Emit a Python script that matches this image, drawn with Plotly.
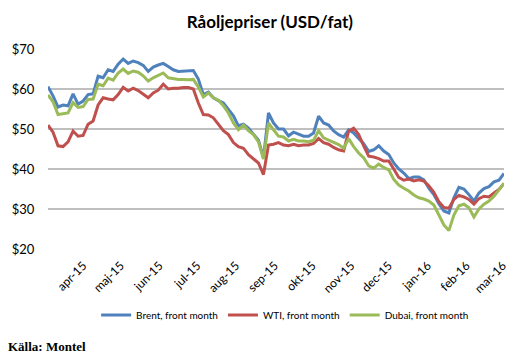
import plotly.graph_objects as go
import pandas as pd

# x categories: observation dates (every 4 days from 2015-03-04)
dates = pd.date_range("2015-03-04", periods=92, freq="4D")

brent = [60.6, 58.3, 55.5, 56.0, 55.8, 58.8, 56.2, 57.0, 58.6, 58.8,
         63.2, 62.8, 64.8, 64.4, 66.2, 67.5, 66.4, 67.0, 66.6, 65.9,
         64.4, 65.5, 66.0, 66.4, 65.6, 64.8, 64.4, 64.5, 64.6, 64.6,
         62.5, 58.6, 59.2, 57.8, 57.1, 56.5, 54.9, 53.3, 50.8, 51.2,
         50.2, 48.6, 47.2, 42.8, 54.0, 51.5, 50.0, 50.0, 48.3, 49.2,
         48.7, 48.2, 48.2, 49.0, 53.2, 51.5, 51.0, 49.5, 48.6, 48.0,
         49.8, 49.0, 47.6, 46.3, 44.4, 44.8, 45.8, 44.5, 43.6, 41.5,
         40.0, 39.0, 37.6, 38.0, 38.0, 37.3, 35.2, 33.6, 31.3, 29.5,
         29.0, 32.8, 35.4, 35.0, 33.6, 32.0, 34.0, 35.1, 35.6, 36.8,
         37.2, 38.9]

wti = [51.0, 49.2, 45.8, 45.6, 46.8, 49.5, 48.2, 48.4, 51.2, 52.0,
       56.0, 57.8, 57.5, 57.3, 58.6, 60.4, 59.5, 60.2, 59.6, 58.7,
       57.8, 59.0, 59.7, 61.2, 60.0, 60.2, 60.2, 60.4, 60.4, 60.0,
       56.5, 53.6, 53.5, 52.8, 51.2, 49.6, 48.6, 46.6, 45.6, 45.2,
       43.6, 42.6, 41.5, 38.6, 46.0, 46.2, 46.6, 46.0, 45.8, 46.2,
       45.8, 46.0, 46.0, 46.4, 47.6, 46.6, 46.2, 45.4, 44.8, 44.5,
       49.5, 50.2, 48.6, 45.8, 43.2, 43.0, 42.6, 42.0, 42.0, 40.0,
       37.9, 37.2, 37.5, 37.0, 37.3, 37.0, 35.8, 34.2, 31.8, 30.4,
       30.2, 32.4, 33.4, 33.0, 32.4, 31.2, 32.6, 33.2, 33.0, 34.0,
       34.9, 36.4]

dubai = [58.5, 56.8, 53.6, 53.8, 54.0, 56.6, 55.4, 55.6, 57.4, 57.5,
         61.2, 60.8, 62.7, 62.2, 64.0, 65.0, 63.9, 64.5, 64.2, 63.3,
         62.0, 62.8, 63.4, 64.0, 62.8, 62.6, 62.4, 62.4, 62.3, 62.4,
         60.5, 58.0, 59.0, 57.8, 57.2, 55.8, 54.0, 51.5, 49.8, 51.0,
         49.6, 48.6, 46.8, 42.5, 51.5, 49.8, 48.2, 48.0, 47.0, 47.4,
         47.0, 47.0, 46.8, 47.2, 49.6, 47.8, 47.2, 46.7, 46.1, 45.2,
         47.6, 45.6, 44.0, 42.8, 40.8, 40.2, 41.2, 40.4, 39.8, 37.4,
         36.0, 35.2, 34.5, 33.5, 32.8, 32.5, 32.0, 31.0, 28.5, 26.0,
         24.6, 28.5, 30.8, 31.2, 30.3, 28.0, 30.0, 31.2, 32.0, 33.2,
         34.8, 36.4]

series_names = ["Brent, front month", "WTI, front month", "Dubai, front month"]
series_colors = ["#4F81BD", "#C0504D", "#9BBB59"]

tick_dates = ["2015-04-01", "2015-05-01", "2015-06-01", "2015-07-01", "2015-08-01",
              "2015-09-01", "2015-10-01", "2015-11-01", "2015-12-01", "2016-01-01",
              "2016-02-01", "2016-03-01"]
tick_labels = ["apr-15", "maj-15", "jun-15", "jul-15", "aug-15", "sep-15",
               "okt-15", "nov-15", "dec-15", "jan-16", "feb-16", "mar-16"]

y_ticks = [20, 30, 40, 50, 60, 70]
y_tick_labels = ["$20", "$30", "$40", "$50", "$60", "$70"]

fig = go.Figure()
for name, vals, col in zip(series_names, [brent, wti, dubai], series_colors):
    fig.add_trace(go.Scatter(x=dates, y=vals, mode="lines", name=name,
                             line=dict(color=col, width=3)))

fig.update_layout(
    width=519, height=360,
    margin=dict(l=48, r=10, t=49, b=111),
    paper_bgcolor="white", plot_bgcolor="white",
    font=dict(family="Lato, 'Open Sans', sans-serif", color="#000000"),
    title=dict(text="<b>Råoljepriser (USD/fat)</b>", x=0.52, xanchor="center",
               y=0.94, yanchor="middle", font=dict(size=17, family="Lato")),
    showlegend=True,
    legend=dict(orientation="h", x=0.52, xanchor="center", y=-0.33, yanchor="middle",
                font=dict(size=10), itemwidth=30, tracegroupgap=0),
    annotations=[dict(text="<b>Källa: Montel</b>", xref="paper", yref="paper",
                      x=0, xshift=-42, y=-0.485, xanchor="left", yanchor="middle",
                      showarrow=False,
                      font=dict(family="Liberation Serif, serif", size=13, color="black"))],
)

fig.update_xaxes(
    type="date", range=["2015-03-04", "2016-03-02"],
    tickvals=tick_dates, ticktext=tick_labels, tickangle=-45,
    showgrid=False, zeroline=False, showline=False,
    ticks="outside", ticklen=4, tickcolor="rgba(0,0,0,0)",
    tickfont=dict(size=12),
)
fig.update_yaxes(
    range=[20, 70], tickvals=y_ticks, ticktext=y_tick_labels,
    showgrid=True, gridcolor="#BFBFBF", gridwidth=1.5,
    zeroline=False, showline=False,
    ticks="outside", ticklen=10, tickcolor="rgba(0,0,0,0)",
    tickfont=dict(size=13),
)

fig.write_html("out.html", config={"displayModeBar": False},
               post_script="document.body.style.margin='0px';document.body.style.overflow='hidden';")
